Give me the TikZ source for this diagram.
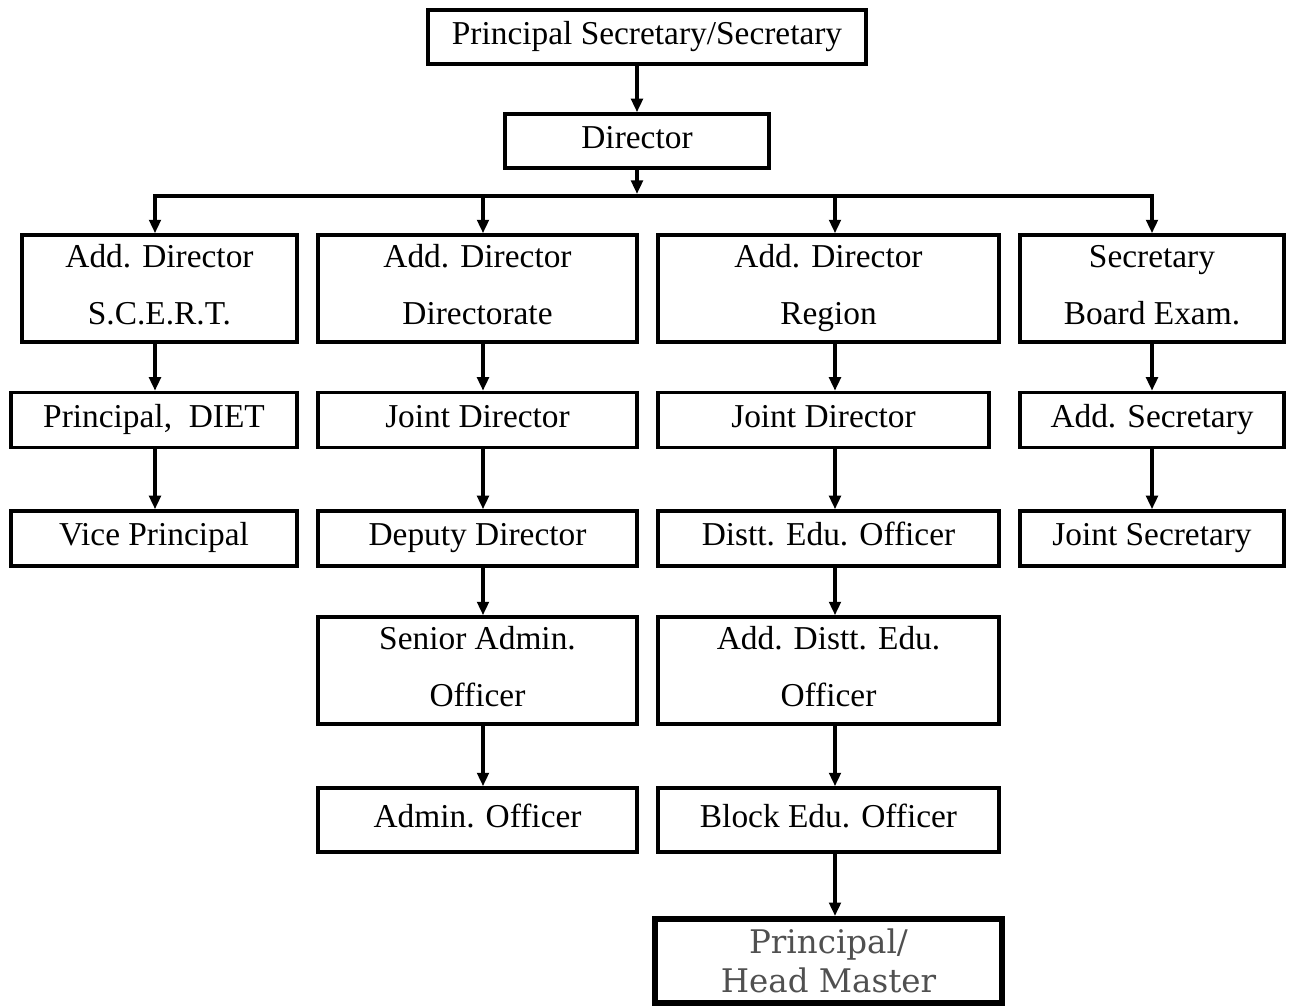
\documentclass[tikz,border=0pt]{standalone}
\usepackage{fontspec}
\setmainfont{Liberation Serif}
\newfontfamily\hmfont{DejaVu Serif}
\usepackage{xcolor}
\usepackage{tikz}
\usetikzlibrary{calc}
\usetikzlibrary{arrows.meta}

\definecolor{hmgray}{RGB}{80,80,80}
\newcommand{\bstrut}{\rule[-0.2cm]{0pt}{0.7cm}}

\begin{document}
\begin{tikzpicture}[x = 0.02cm, y = -0.02cm]

\tikzstyle{box}=[rectangle, draw, line width = 2pt, inner sep = 0pt, align = center, font = \fontsize{19}{32}\selectfont]
\tikzstyle{box_s}=[box, minimum height = 1.1cm]
\tikzstyle{box_d}=[box, minimum height = 2.14cm]
\tikzstyle{box_hm}=[rectangle, draw, line width = 3.4pt, inner sep = 0pt, align = center, text = hmgray, font = \hmfont\fontsize{18.5}{22}\selectfont, minimum width = 6.94cm, minimum height = 1.68cm]
\tikzstyle{arrow}=[-{Triangle[length = 0.27cm, width = 0.23cm]}, line width = 2pt]

\useasboundingbox (0, 0) rectangle (1292, 1006);

\coordinate (X1) at (155, 196);
\coordinate (X2) at (483, 196);
\coordinate (X3) at (835, 196);
\coordinate (X4) at (1152, 196);
\coordinate (B) at (637, 194);

\path
(647, 37) node[box, minimum width = 8.76cm, minimum height = 1.08cm](ps) {\bstrut Principal Secretary/Secretary}
(637, 141) node[box, minimum width = 5.28cm, minimum height = 1.08cm](dir) {\bstrut Director};

% first column
\path
(159.5, 288.5) node[box_d, minimum width = 5.5cm](a1) {\bstrut Add. Director\\\bstrut S.C.E.R.T.}
(154, 420) node[box_s, minimum width = 5.72cm](b1) {\bstrut Principal,~ DIET}
(154, 538.5) node[box_s, minimum width = 5.72cm](c1) {\bstrut Vice Principal};

% second column
\path
(477.5, 288.5) node[box_d, minimum width = 6.38cm](a2) {\bstrut Add. Director\\\bstrut Directorate}
(477.5, 420) node[box_s, minimum width = 6.38cm](b2) {\bstrut Joint Director}
(477.5, 538.5) node[box_s, minimum width = 6.38cm](c2) {\bstrut Deputy Director}
(477.5, 670.5) node[box_d, minimum width = 6.38cm](d2) {\bstrut Senior Admin.\\\bstrut Officer}
(477.5, 820) node[box, minimum width = 6.38cm, minimum height = 1.28cm](e2) {\bstrut Admin. Officer};

% third column
\path
(828.5, 288.5) node[box_d, minimum width = 6.82cm](a3) {\bstrut Add. Director\\\bstrut Region}
(823.5, 420) node[box_s, minimum width = 6.62cm](b3) {\bstrut Joint Director}
(828.5, 538.5) node[box_s, minimum width = 6.82cm](c3) {\bstrut Distt. Edu. Officer}
(828.5, 670.5) node[box_d, minimum width = 6.82cm](d3) {\bstrut Add. Distt. Edu.\\\bstrut Officer}
(828.5, 820) node[box, minimum width = 6.82cm, minimum height = 1.28cm](e3) {\bstrut Block Edu. Officer}
(828.5, 961) node[box_hm](hm) {Principal/\\Head Master};

% fourth column
\path
(1152, 288.5) node[box_d, minimum width = 5.28cm](a4) {\bstrut Secretary\\\bstrut Board Exam.}
(1152, 420) node[box_s, minimum width = 5.28cm](b4) {\bstrut Add. Secretary}
(1152, 538.5) node[box_s, minimum width = 5.28cm](c4) {\bstrut Joint Secretary};

%arrows
\draw[arrow] (ps.south -| dir) to (dir.north);
\draw[arrow] (dir.south) to (B);
\draw[line width = 2pt, line cap = rect] (X1) to (X4);

\draw[arrow] (X1) to (a1.north -| X1);
\draw[arrow] (X2) to (a2.north -| X2);
\draw[arrow] (X3) to (a3.north -| X3);
\draw[arrow] (X4) to (a4.north -| X4);

\draw[arrow] (a1.south -| X1) to (b1.north -| X1);
\draw[arrow] (b1.south -| X1) to (c1.north -| X1);

\draw[arrow] (a2.south -| X2) to (b2.north -| X2);
\draw[arrow] (b2.south -| X2) to (c2.north -| X2);
\draw[arrow] (c2.south -| X2) to (d2.north -| X2);
\draw[arrow] (d2.south -| X2) to (e2.north -| X2);

\draw[arrow] (a3.south -| X3) to (b3.north -| X3);
\draw[arrow] (b3.south -| X3) to (c3.north -| X3);
\draw[arrow] (c3.south -| X3) to (d3.north -| X3);
\draw[arrow] (d3.south -| X3) to (e3.north -| X3);
\draw[arrow] (e3.south -| X3) to (hm.north -| X3);

\draw[arrow] (a4.south -| X4) to (b4.north -| X4);
\draw[arrow] (b4.south -| X4) to (c4.north -| X4);

\end{tikzpicture}
\end{document}
